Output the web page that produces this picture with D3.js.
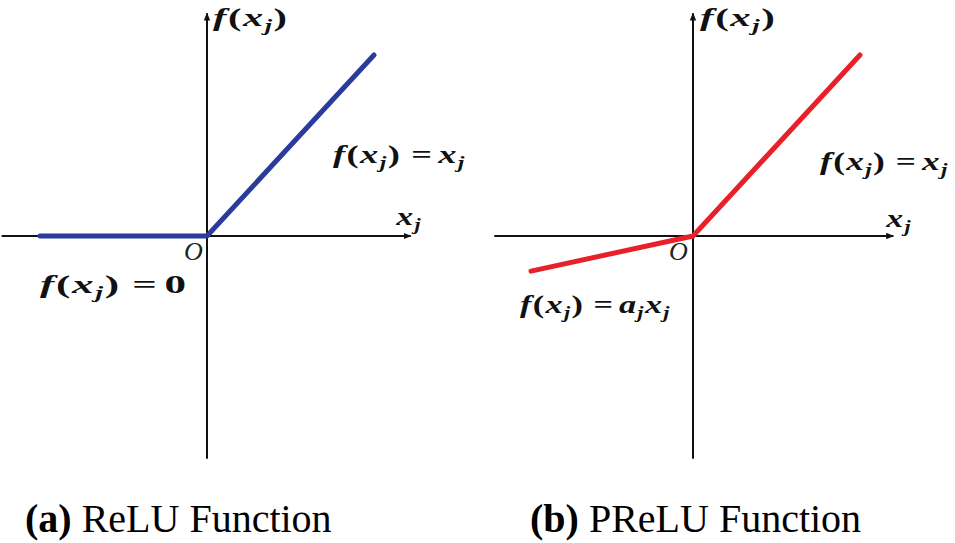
<!DOCTYPE html>
<html><head><meta charset="utf-8">
<script src="https://cdn.jsdelivr.net/npm/d3@7"></script>
<style>body{margin:0;background:#fff}svg{display:block}</style>
</head><body>
<svg id="c" width="955" height="543"></svg>
<script>
// ---- data ----
const panelNames = ["(a)", "(b)"];
const panelTitles = ["ReLU Function", "PReLU Function"];
const reluX = [-5, 0, 5];
const reluY = [0, 0, 5];
const preluX = [-4.85, 0, 5];
const preluY = [-0.97, 0, 5];
const xAxisExtentA = [-6.15, 6.1];
const xAxisExtentB = [-5.95, 6.0];
const yAxisExtent = [-6.15, 6.15];

const svg = d3.select("#c");
const defs = svg.append("defs");
defs.append("marker").attr("id","arr").attr("viewBox","0 0 10 10")
  .attr("refX",9).attr("refY",5).attr("markerWidth",4).attr("markerHeight",4)
  .attr("orient","auto").attr("markerUnits","strokeWidth")
  .append("path").attr("d","M0,1 L10,5 L0,9 z").attr("fill","#111");

const panels = [
  {ox:207, oy:236, xs:reluX, ys:reluY, color:"#2b3b9c", xext:xAxisExtentA,
   labels:[
     {x:213,y:26,w:74,parts:[["f"],["("],["x"],["j","sub"],[")"]]},
     {x:333,y:163,w:132,parts:[["f"],["("],["x"],["j","sub"],[")"],["=","op"],["x"],["j","sub"]]},
     {x:395,y:225,w:26,parts:[["x"],["j","sub"]]},
     {x:40,y:293,w:146,parts:[["f"],["("],["x"],["j","sub"],[")"],["=","op"],["0","up"]]}
   ], O:{x:184,y:260}, cap:{x:25,y:532}},
  {ox:693, oy:236, xs:preluX, ys:preluY, color:"#e8202a", xext:xAxisExtentB,
   labels:[
     {x:700,y:26,w:75,parts:[["f"],["("],["x"],["j","sub"],[")"]]},
     {x:820,y:170,w:128,parts:[["f"],["("],["x"],["j","sub"],[")"],["=","op"],["x"],["j","sub"]]},
     {x:885,y:227,w:26,parts:[["x"],["j","sub"]]},
     {x:520,y:313,w:150,parts:[["f"],["("],["x"],["j","sub"],[")"],["=","op"],["a"],["j","sub"],["x"],["j","sub"]]}
   ], O:{x:669,y:260}, cap:{x:530,y:532}}
];

const pxPerX = 33.4, pxPerY = 36.2;

panels.forEach((p,i)=>{
  const x = d3.scaleLinear().domain([0,1]).range([p.ox, p.ox+pxPerX]);
  const y = d3.scaleLinear().domain([0,1]).range([p.oy, p.oy-pxPerY]);
  const g = svg.append("g");
  g.append("line").attr("x1",x(p.xext[0])).attr("x2",x(p.xext[1]))
    .attr("y1",y(0)).attr("y2",y(0)).attr("stroke","#111").attr("stroke-width",2)
    .attr("marker-end","url(#arr)");
  g.append("line").attr("x1",x(0)).attr("x2",x(0))
    .attr("y1",y(yAxisExtent[0])).attr("y2",y(yAxisExtent[1])).attr("stroke","#111").attr("stroke-width",2)
    .attr("marker-end","url(#arr)");
  const pts = p.xs.map((v,k)=>[v,p.ys[k]]);
  g.append("path").attr("d", d3.line().x(d=>x(d[0])).y(d=>y(d[1]))(pts))
    .attr("fill","none").attr("stroke",p.color).attr("stroke-width",5)
    .attr("stroke-linecap","round").attr("stroke-linejoin","round");
  p.labels.forEach(l=>{
    const t = g.append("text").attr("x",l.x).attr("y",l.y)
      .attr("font-family","'Liberation Serif', serif").attr("font-size",26)
      .attr("font-weight","bold").attr("fill","#111");
    let prevSub = false;
    l.parts.forEach(pt=>{
      const s = t.append("tspan").text(pt[0]);
      if (pt[1]==="sub") {
        s.attr("font-size",17).attr("dy",prevSub?0:5).attr("dx",1).attr("font-style","italic");
        prevSub = true;
      } else {
        if (prevSub) s.attr("dy",-5);
        prevSub = false;
        if (pt[1]==="op") s.attr("dx",8).attr("font-style","normal");
        else if (pt[0]==="(" || pt[0]===")" || pt[1]==="up") s.attr("font-style","normal").attr("dx",1);
        else s.attr("font-style","italic").attr("dx",pt[0]==="f"?0:1);
      }
      if (pt[1]==="op") t.append("tspan").text("\u00a0").attr("font-size",14);
    });
    // stretch to the measured width of the reference label
    const bb = t.node().getBBox();
    const sx = l.w / bb.width;
    const x0 = bb.x;
    t.attr("transform", `translate(${l.x},0) scale(${sx},1) translate(${-x0},0)`);
  });
  g.append("text").attr("x",p.O.x).attr("y",p.O.y).text("O")
    .attr("font-family","'Liberation Serif', serif").attr("font-style","italic")
    .attr("font-size",26).attr("fill","#222");
  const c = g.append("text").attr("x",p.cap.x).attr("y",p.cap.y)
    .attr("font-family","'Liberation Serif', 'Times New Roman', serif").attr("font-size",40).attr("fill","#000");
  c.append("tspan").attr("font-weight","bold").text(panelNames[i]);
  c.append("tspan").text(" "+panelTitles[i]);
});
</script>
</body></html>
